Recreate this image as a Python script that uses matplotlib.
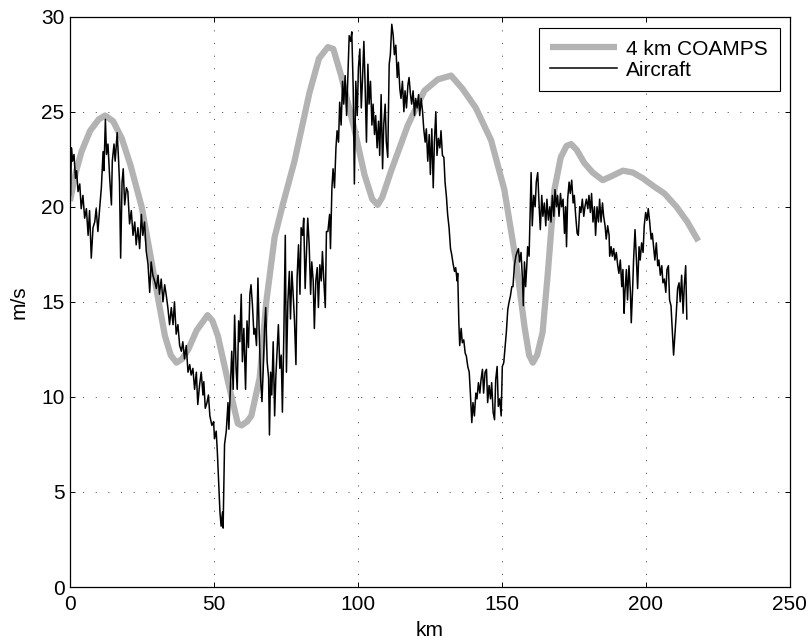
import matplotlib
matplotlib.use("Agg")
import matplotlib.pyplot as plt

plt.rcParams['font.family'] = ['Liberation Sans', 'DejaVu Sans']

# 4 km COAMPS model wind speed along the track
coamps_km = [0, 2, 4, 7, 10, 12.2, 15, 18, 21, 24.9, 28, 30.1, 33, 35, 37, 39, 41.1, 44,
             47.8, 49.5, 51.4, 54.9, 58.3, 59.6, 61.5, 63, 65.9, 68.2, 71.1, 73.9, 78.0,
             83.2, 86.5, 89.6, 91.5, 94.2, 98.8, 102.3, 105, 106.9, 108.5, 111.6, 117.4,
             123.1, 127.8, 132.4, 136.4, 141, 146.3, 150.9, 155.0, 157.9, 159.5, 160.8,
             162.3, 164.2, 166.0, 168.3, 170.5, 172.5, 174.1, 176, 178.7, 181.6, 185.1,
             188, 192.1, 195.6, 199, 202.6, 206.5, 210.7, 214.5, 218.3]
coamps_ms = [20.3, 21.8, 22.9, 24.0, 24.6, 24.8, 24.5, 23.6, 22.2, 20.0, 17.4, 15.6, 13.2,
             12.2, 11.8, 12.0, 12.5, 13.5, 14.3, 14.0, 13.2, 10.8, 8.6, 8.5, 8.7, 9.0, 11.0,
             15.0, 18.4, 20.1, 22.4, 26.0, 27.8, 28.4, 28.3, 26.9, 24.1, 21.7, 20.4, 20.1,
             20.5, 21.9, 24.3, 26.1, 26.7, 26.9, 26.2, 25.2, 23.5, 20.9, 17.1, 13.7, 12.2,
             11.8, 12.2, 13.4, 16.5, 20.9, 22.6, 23.2, 23.3, 23.0, 22.3, 21.8, 21.4, 21.6,
             21.9, 21.8, 21.5, 21.1, 20.7, 20.0, 19.2, 18.2]

# aircraft observations
aircraft_km = [
    0.0, 0.2, 0.5, 0.9, 1.4, 1.9, 2.3, 2.8, 3.4, 3.9, 4.5, 5.1, 5.7, 6.3, 6.8, 7.4, 8.0, 8.6,
    9.1, 9.7, 10.3, 10.9, 11.5, 11.8, 12.3, 12.7, 13.2, 13.8, 14.4, 14.7, 15.3, 15.7, 16.4,
    16.9, 17.2, 17.6, 18.1, 18.5, 19.0, 19.6, 20.1, 20.7, 21.3, 21.9, 22.5, 23.0, 23.6, 24.2,
    24.8, 25.3, 25.9, 26.5, 27.1, 27.7, 28.2, 28.8, 29.4, 30.0, 30.6, 31.1, 31.7, 32.3, 32.9,
    33.4, 34.0, 34.6, 35.2, 35.8, 36.3, 36.9, 37.5, 38.1, 38.7, 39.2, 39.8, 40.4, 41.0, 41.6,
    42.1, 42.7, 43.3, 43.9,
    44.4, 45.0, 45.6, 46.2, 46.5, 47.0, 47.6, 48.1, 48.6, 49.3, 49.9, 50.2, 50.8, 51.2, 51.6,
    52.1, 52.5, 53.0, 53.2, 53.7, 54.3, 54.9, 55.2, 55.7, 56.2, 56.7, 57.2, 57.7, 58.1, 58.6,
    59.0, 59.5, 59.9, 60.4, 61.0, 61.5, 62.0, 62.5, 62.9, 63.4, 63.9, 64.3, 64.8, 65.3, 65.7,
    66.2, 66.7, 67.1, 67.6, 68.0, 68.5, 69.0, 69.3, 69.7, 70.1, 70.6, 71.1, 71.5, 72.0, 72.4,
    72.9, 73.4, 73.8, 74.3, 74.8, 75.2, 75.7, 76.2, 76.6, 77.1, 77.5, 78.0, 78.5, 78.9, 79.4,
    79.9, 80.3, 80.8, 81.2, 81.7, 82.2, 82.6, 83.1, 83.6, 84.0, 84.5, 84.9, 85.4, 85.9, 86.3,
    86.8, 87.3, 87.7, 88.2, 88.7, 89.1,
    89.6, 90.2, 90.5, 91.0, 91.4, 91.9, 92.4, 92.8, 93.3, 93.7, 94.2, 94.7, 95.1, 95.6, 96.1,
    96.5, 97.0, 97.5, 97.9, 98.4, 98.8, 99.3, 99.8, 100.2, 100.7, 101.2, 101.6, 102.1, 102.5,
    103.0, 103.5, 103.9, 104.4, 104.9, 105.3, 105.8, 106.2, 106.7, 107.2, 107.6, 108.1, 108.6,
    109.0, 109.5, 109.9, 110.4, 110.9, 111.3, 111.8, 112.3, 112.7, 113.2, 113.7, 114.1, 114.6,
    115.0, 115.5, 116.0, 116.4, 116.9, 117.4, 117.8, 118.3, 118.7, 119.2, 119.7, 120.1, 120.6,
    121.1, 121.5, 122.0, 122.5, 122.9, 123.4, 123.8, 124.3, 124.8, 125.2, 125.7, 126.2, 126.6,
    127.1, 127.5, 128.0, 128.5, 128.9, 129.4, 129.9, 130.3, 130.8, 131.2, 131.7, 132.2, 132.6,
    133.1, 133.6, 134.0, 134.5,
    134.7, 135.1, 135.4, 135.9, 136.3, 136.8, 137.3, 137.7, 138.2, 138.7, 139.1, 139.6, 140.0,
    140.5, 141.0, 141.4, 141.9, 142.4, 142.8, 143.3, 143.7, 144.2, 144.7, 145.1, 145.6, 146.1,
    146.5, 147.0, 147.5, 147.9, 148.4, 148.8, 149.3, 149.8, 150.2, 150.7, 151.2, 151.6, 152.1,
    152.5, 153.0, 153.5, 153.9, 154.4, 154.9, 155.3, 155.8, 156.2, 156.7, 157.2, 157.5, 157.9,
    158.3, 158.7, 159.0, 159.5, 159.8, 160.2, 160.6, 161.1, 161.6, 162.0, 162.5, 163.0, 163.4,
    163.9, 164.3, 164.8, 165.3, 165.7, 166.2, 166.7, 167.1, 167.6, 168.1, 168.5, 169.0, 169.4,
    169.9, 170.4, 170.8, 171.3, 171.8, 172.2, 172.5, 172.9, 173.4, 173.8, 174.3, 174.8, 175.2,
    175.7, 176.2, 176.6, 177.1, 177.5, 178.0, 178.5, 178.9, 179.4,
    179.9, 180.3, 180.8, 181.2, 181.7, 182.2, 182.6, 183.1, 183.6, 184.0, 184.5, 185.0, 185.4,
    185.9, 186.3, 186.8, 187.3, 187.5, 188.0, 188.4, 188.9, 189.3, 189.8, 190.3, 190.7, 191.2,
    191.7, 192.1, 192.5, 192.8, 193.3, 193.7, 194.2, 194.7, 195.0, 195.5, 195.8, 196.3, 196.8,
    197.2, 197.7, 198.1, 198.6, 199.1, 199.5, 200.0, 200.5, 200.9, 201.4, 201.9, 202.3, 202.8,
    203.2, 203.7, 204.2, 204.6, 205.1, 205.6, 206.0, 206.5, 207.0, 207.4, 207.9, 208.3, 208.8,
    209.3, 209.7, 210.2, 210.6, 211.1, 211.6, 212.0, 212.5, 213.0, 213.4, 213.9, 214.3]
aircraft_ms = [
    20.5, 20.6, 23.1, 22.4, 22.75, 21.5, 21.9, 20.8, 21.2, 19.9, 20.6, 19.4, 19.9, 18.5, 19.8,
    17.3, 18.9, 19.2, 19.9, 18.7, 19.9, 21.0, 22.9, 21.9, 24.6, 22.75, 23.3, 21.5, 20.1, 22.4,
    23.3, 22.4, 23.9, 22.4, 21.3, 17.3, 21.3, 22.0, 20.1, 21.0, 20.8, 19.1, 19.8, 18.5, 19.2,
    18.0, 18.9, 17.8, 19.6, 18.5, 19.2, 17.65, 17.0, 15.5, 17.1, 16.4, 16.1, 15.7, 16.4, 15.4,
    16.2, 15.0, 15.9, 15.4, 14.7, 13.8, 14.7, 13.8, 15.0, 13.3, 13.8, 12.7, 12.4, 12.9, 12.0,
    12.7, 11.3, 11.7, 11.15, 11.5, 10.4, 11.3,
    9.6, 10.6, 11.3, 10.1, 10.8, 9.4, 9.7, 10.1, 9.0, 8.5, 8.7, 7.8, 8.2, 7.1, 5.7, 3.95, 3.2,
    3.95, 3.1, 7.5, 8.2, 9.7, 8.3, 10.4, 12.4, 10.4, 14.3, 11.5, 10.4, 14.0, 12.9, 15.4, 11.85,
    13.6, 10.4, 14.0, 12.6, 15.4, 15.9, 14.8, 13.3, 13.6, 12.7, 16.25, 13.6, 11.0, 9.75, 11.3,
    13.6, 14.7, 11.85, 11.0, 8.0, 11.3, 10.1, 12.9, 9.0, 11.0, 12.6, 13.8, 11.5, 12.2, 9.2,
    13.3, 18.5, 11.3, 15.0, 16.6, 14.1, 16.6, 15.5, 14.0, 11.7, 16.25, 18.0, 15.4, 18.9, 18.5,
    19.4, 15.7, 17.8, 19.4, 18.0, 15.4, 17.1, 16.1, 13.6, 16.1, 16.8, 14.7, 16.95, 16.1, 17.65,
    16.1, 14.7, 18.7,
    18.7, 19.6, 17.8, 21.0, 22.0, 21.0, 23.1, 24.0, 23.4, 25.5, 24.3, 26.6, 25.4, 26.9, 24.8,
    26.6, 29.0, 28.7, 29.2, 26.2, 21.2, 26.6, 24.8, 27.3, 28.3, 25.2, 26.6, 28.7, 26.6, 23.4,
    27.5, 25.4, 26.6, 24.3, 25.4, 23.8, 24.8, 23.1, 24.5, 22.7, 25.9, 22.0, 24.3, 25.4, 23.4,
    22.6, 27.5, 28.0, 29.6, 29.0, 28.0, 28.5, 26.8, 27.6, 26.2, 25.7, 26.6, 25.0, 26.1, 25.2,
    26.4, 26.8, 25.9, 25.4, 26.1, 24.8, 25.7, 25.2, 25.9, 24.8, 25.7, 25.0, 24.1, 23.4, 24.1,
    22.4, 23.8, 21.7, 24.1, 21.0, 23.4, 25.0, 22.7, 23.6, 23.1, 24.0, 22.7, 22.6, 21.3, 20.5,
    19.6, 18.9, 17.8, 17.5, 17.0, 16.6, 16.8, 16.1,
    16.5, 13.9, 12.7, 13.6, 12.85, 13.0, 12.3, 12.15, 11.6, 11.3, 10.2, 8.65, 9.7, 9.0, 10.2,
    9.9, 10.75, 10.2, 10.9, 11.45, 10.2, 11.3, 11.45, 9.7, 10.6, 9.9, 10.75, 9.2, 8.8, 10.9,
    11.6, 9.5, 9.9, 9.0, 11.6, 11.8, 12.7, 13.4, 14.6, 14.95, 15.3, 15.8, 15.8, 16.9, 17.4,
    17.6, 17.8, 17.1, 17.6, 16.2, 14.8, 17.1, 15.8, 16.9, 17.9, 17.4, 19.3, 21.8, 19.0, 20.6,
    20.0, 21.3, 21.8, 20.0, 18.8, 20.6, 19.5, 20.2, 19.0, 20.4, 19.3, 20.0, 19.2, 20.6, 19.5,
    20.9, 20.0, 20.6, 19.5, 20.7, 20.0, 20.4, 18.6, 20.0, 17.9, 20.4, 21.3, 20.7, 21.4, 20.2,
    20.6, 19.5, 18.6, 18.5, 20.0, 19.7, 20.4, 19.5, 20.0, 20.4,
    19.9, 20.6, 19.7, 20.7, 19.2, 20.0, 18.5, 20.0, 19.2, 20.4, 19.2, 20.2, 19.5, 19.0, 18.3,
    19.0, 18.5, 17.4, 17.9, 17.4, 17.8, 17.2, 17.6, 16.9, 16.5, 17.2, 15.8, 16.7, 14.4, 15.5,
    16.7, 15.1, 16.9, 15.5, 13.9, 15.8, 17.2, 18.8, 17.2, 15.7, 17.9, 17.2, 18.1, 17.6, 19.0,
    19.7, 19.3, 19.9, 19.2, 18.3, 18.6, 17.8, 17.2, 18.1, 16.9, 17.2, 16.4, 16.9, 16.0, 16.2,
    15.5, 16.7, 16.9, 15.1, 14.8, 13.4, 12.2, 13.4, 14.3, 15.7, 16.0, 15.0, 16.4, 14.4, 15.8,
    16.9, 14.1]

fig = plt.figure(figsize=(8.09, 6.41), dpi=100)
ax = fig.add_axes([0.0865, 0.0842, 0.8895, 0.8898])

ax.plot(coamps_km, coamps_ms, color='#b3b3b3', linewidth=4.5, solid_capstyle='butt',
        label='4 km COAMPS')
ax.plot(aircraft_km, aircraft_ms, color='black', linewidth=1.1, label='Aircraft')

ax.set_xlim(0, 250)
ax.set_ylim(0, 30)
ax.set_xticks([0, 50, 100, 150, 200, 250])
ax.set_yticks([0, 5, 10, 15, 20, 25, 30])
ax.grid(True, color='0.25', linestyle=(0, (1, 12)), linewidth=0.7)
ax.tick_params(direction='in', length=3.5, width=0.7, top=True, right=True,
               labelsize=15)
ax.tick_params(axis='x', pad=5.5)
ax.tick_params(axis='y', pad=4)
for sp in ax.spines.values():
    sp.set_linewidth(0.9)

ax.set_xlabel('km', fontsize=15, labelpad=5)
ax.set_ylabel('m/s', fontsize=15, labelpad=9)

leg = ax.legend(loc='upper right', bbox_to_anchor=(0.986, 0.98), fontsize=15,
                fancybox=False, framealpha=1, edgecolor='black', handlelength=3.2,
                borderpad=0.55, labelspacing=0.1, handletextpad=0.45, borderaxespad=0)
leg.get_frame().set_linewidth(0.8)

fig.savefig('out.png', dpi=100)
